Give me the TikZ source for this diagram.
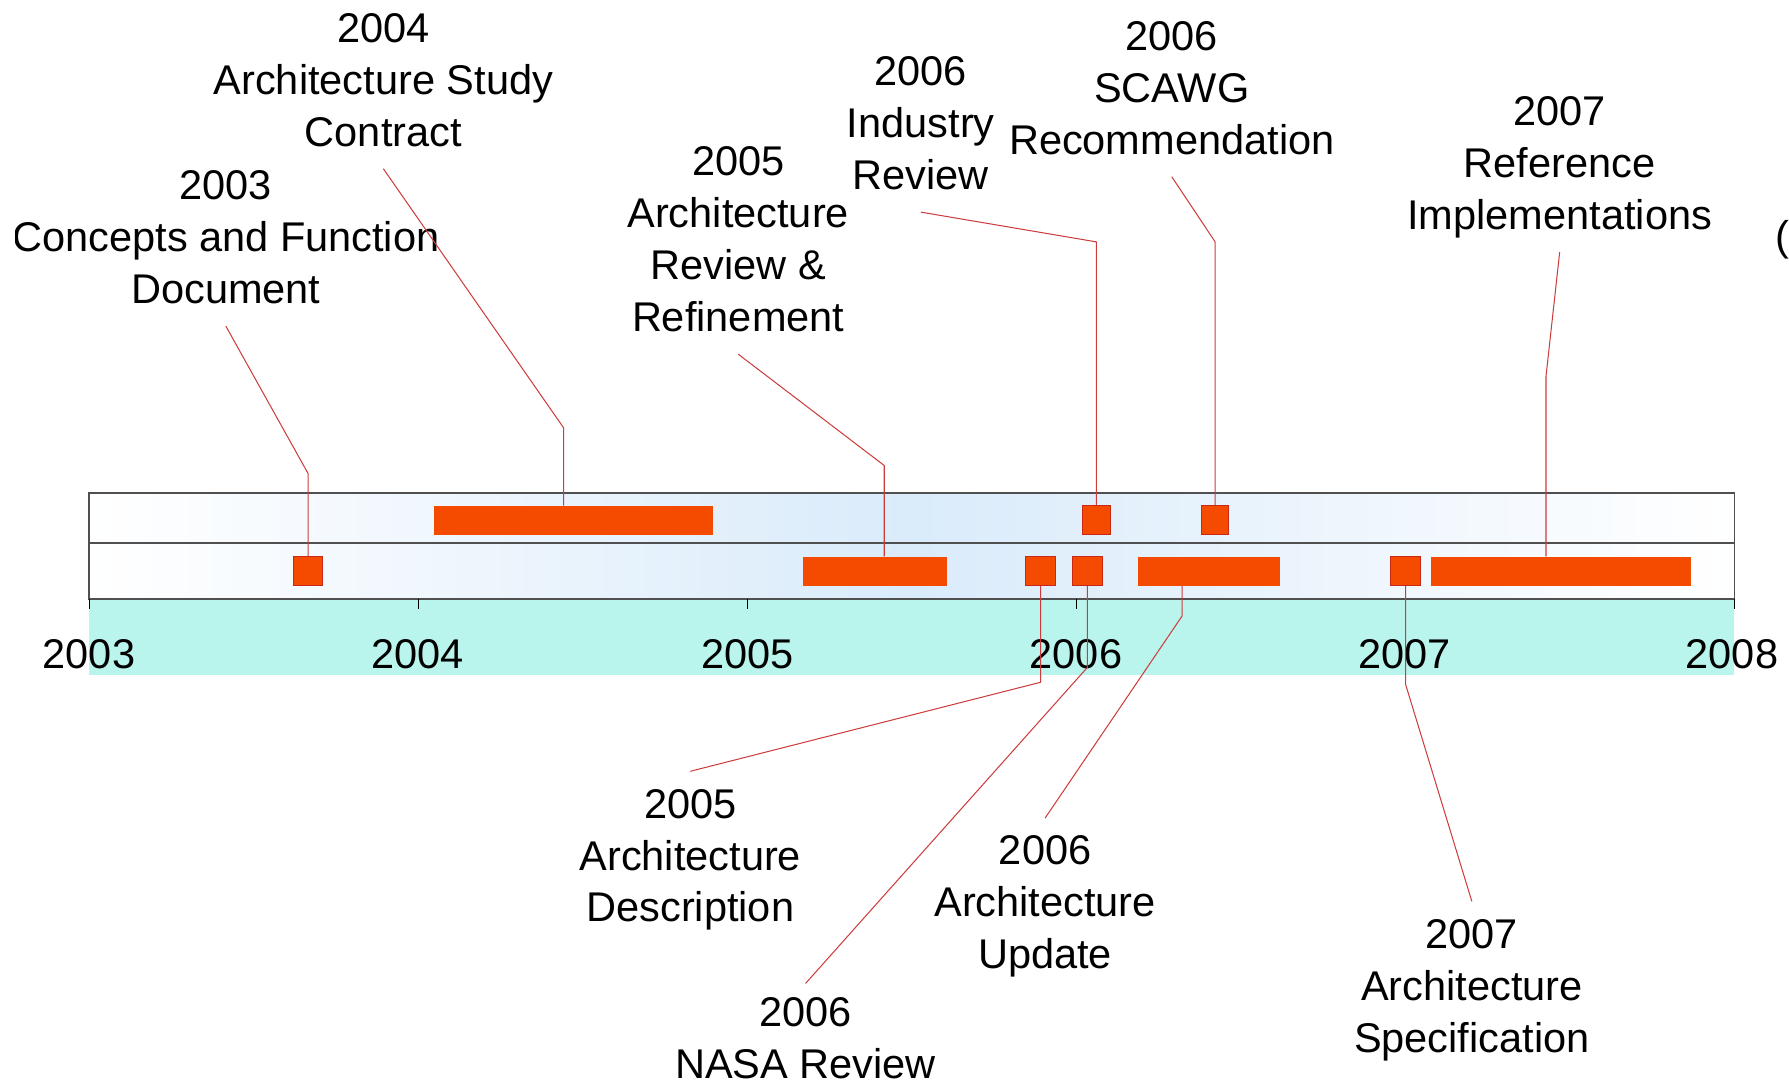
\documentclass[tikz,border=0pt]{standalone}
\usepackage{fontspec}
\setmainfont{Liberation Sans}
\definecolor{barorange}{RGB}{245,75,0}
\definecolor{sqborder}{RGB}{200,40,20}
\definecolor{connred}{RGB}{205,60,60}
\definecolor{tealband}{RGB}{185,245,237}
\definecolor{frameblue}{RGB}{218,235,250}
\definecolor{framegray}{RGB}{80,80,80}
\newcommand\labfont{\fontsize{36.4}{45.5}\selectfont}
\begin{document}
\begin{tikzpicture}[x=1pt,y=-1pt,
  lab/.style={font=\labfont, align=center, inner sep=0pt, anchor=north},
  yr/.style={font=\labfont, inner sep=0pt},
  bar/.style={fill=barorange, inner sep=0pt, minimum height=25.5pt},
  sq/.style={bar, draw=sqborder, line width=0.9pt},
  conn/.style={draw=connred, line width=0.9pt},
  framestyle/.style={draw=framegray, line width=1.3pt},
  tickstyle/.style={draw=black, line width=0.8pt}
]
\useasboundingbox (0,0) rectangle (1568,953);
% axis band and frame
\fill[tealband] (78,525) rectangle (1520,592);
\shade[left color=white,right color=white,middle color=frameblue] (78,432) rectangle (1520,525);
\draw[framestyle] (78,432) rectangle (1520,525);
\draw[framestyle] (78,476) -- (1520,476);
\foreach \x in {78,366.4,654.8,943.2,1231.6,1520} \draw[tickstyle] (\x,525) -- (\x,534);
% year labels
\node[yr] (y2003) at (78,573) {2003};
\node[yr] (y2004) at (366,573) {2004};
\node[yr] (y2005) at (655,573) {2005};
\node[yr] (y2006) at (943,573) {2006};
\node[yr] (y2007) at (1231,573) {2007};
\node[yr] (y2008) at (1518,573) {2008};
% top labels
\node[lab] (l2004) at (336,5) {\strut 2004\\\strut Architecture Study\\\strut Contract};
\begin{scope}
\clip (14,0) rectangle (1568,953);
\node[lab] (l2003) at (198,143) {\strut 2003\\\strut Concepts and Function\\\strut Document};
\end{scope}
\node[lab] (l2005r) at (647,122) {\strut 2005\\\strut Architecture\\\strut Review \&\\\strut Refinement};
\node[lab] (lInd) at (807,43) {\strut 2006\\\strut Industry\\\strut Review};
\node[lab] (lSC) at (1027,12) {\strut 2006\\\strut SCAWG\\\strut Recommendation};
\node[lab] (lRef) at (1367,78) {\strut 2007\\\strut Reference\\\strut Implementations};
\node[yr, anchor=west] (frag) at (1556,210) {(};
% bottom labels
\node[lab] (lDesc) at (605,685) {\strut 2005\\\strut Architecture\\\strut Description};
\node[lab] (lNASA) at (706,868) {\strut 2006\\NASA Review};
\node[lab] (lUpd) at (916,726) {\strut 2006\\\strut Architecture\\\strut Update};
\node[lab] (lSpec) at (1290,799) {\strut 2007\\\strut Architecture\\\strut Specification};
% bars (positions)
\path
  (502.5,456) node[bar, minimum width=245pt] (b2004) {}
  (961,456) node[sq, minimum width=24pt] (sInd) {}
  (1065,456) node[sq, minimum width=24pt] (sSC) {}
  (270,500.5) node[sq, minimum width=26pt] (s2003) {}
  (767,500.5) node[bar, minimum width=126pt] (b2005r) {}
  (912,500.5) node[sq, minimum width=26pt] (sDesc) {}
  (953,500.5) node[sq, minimum width=26pt] (sNASA) {}
  (1059.5,500.5) node[bar, minimum width=125pt] (bUpd) {}
  (1232,500.5) node[sq, minimum width=26pt] (sSpec) {}
  (1368,500.5) node[bar, minimum width=228pt] (bRef) {};
\coordinate (c2004) at ([xshift=-8.5pt]b2004.north);
\coordinate (c2005r) at ([xshift=8pt]b2005r.north);
\coordinate (cRef) at ([xshift=-13pt]bRef.north);
\coordinate (cUpd) at ([xshift=-23.5pt]bUpd.south);
% connectors
\draw[conn] ([yshift=-6pt]l2003.south) -- (s2003.north |- 0,415) -- (s2003.north);
\draw[conn] ([yshift=-6pt]l2004.south) -- (c2004 |- 0,375) -- (c2004);
\draw[conn] ([yshift=-6pt]l2005r.south) -- (c2005r |- 0,408) -- (c2005r);
\draw[conn] ([yshift=-6pt]lInd.south) -- (sInd.north |- 0,212) -- (sInd.north);
\draw[conn] ([yshift=-6pt]lSC.south) -- (sSC.north |- 0,212) -- (sSC.north);
\draw[conn] ([yshift=-6pt]lRef.south) -- (cRef |- 0,330) -- (cRef);
\draw[conn] (sDesc.south) -- (sDesc.south |- 0,598) -- ([yshift=9pt]lDesc.north);
\draw[conn] (sNASA.south) -- (sNASA.south |- 0,585) -- ([yshift=6pt]lNASA.north);
\draw[conn] (cUpd) -- (cUpd |- 0,540) -- ([yshift=9pt]lUpd.north);
\draw[conn] (sSpec.south) -- (sSpec.south |- 0,600) -- ([yshift=9pt]lSpec.north);
% redraw bars on top of connectors
\path
  (502.5,456) node[bar, minimum width=245pt] {}
  (961,456) node[sq, minimum width=24pt] {}
  (1065,456) node[sq, minimum width=24pt] {}
  (270,500.5) node[sq, minimum width=26pt] {}
  (767,500.5) node[bar, minimum width=126pt] {}
  (912,500.5) node[sq, minimum width=26pt] {}
  (953,500.5) node[sq, minimum width=26pt] {}
  (1059.5,500.5) node[bar, minimum width=125pt] {}
  (1232,500.5) node[sq, minimum width=26pt] {}
  (1368,500.5) node[bar, minimum width=228pt] {};
\end{tikzpicture}
\end{document}
